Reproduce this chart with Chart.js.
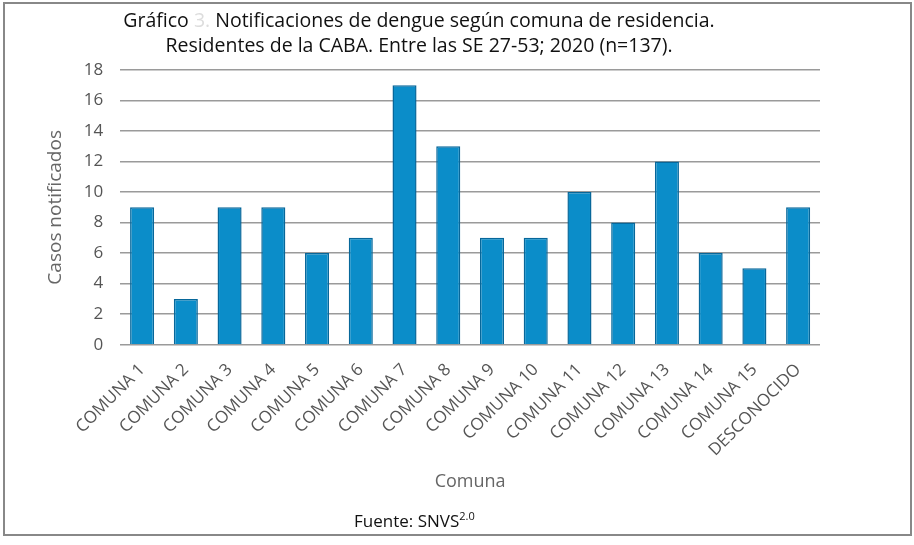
<!DOCTYPE html>
<html>
<head>
<meta charset="utf-8">
<script src="https://cdn.jsdelivr.net/npm/chart.js@4"></script>
<style>
  html, body { margin: 0; padding: 0; background: #fff; }
  body { width: 914px; height: 545px; position: relative; overflow: hidden; font-family: "Open Sans", sans-serif; }
  #frame { position: absolute; left: 3px; top: 2px; width: 905px; height: 530px; border: 2px solid #888; }
  #wrap { position: absolute; left: 0; top: 0; width: 914px; height: 545px; }
  #title { position: absolute; left: 0; top: 7px; width: 838px; text-align: center; font-size: 19.5px; line-height: 25px; color: #111; }
  #title .num { color: #ddd; }
  #source { position: absolute; left: 354px; top: 508px; font-size: 17px; color: #111; }
  #source sup { font-size: 11px; }
</style>
</head>
<body>
<div id="frame"></div>
<div id="wrap"><canvas id="chart"></canvas></div>
<div id="title">Gráfico <span class="num">3.</span> Notificaciones de dengue según comuna de residencia.<br>Residentes de la CABA. Entre las SE 27-53; 2020 (n=137).</div>
<div id="source">Fuente: SNVS<sup>2.0</sup></div>
<script>
const comunas = ['COMUNA 1', 'COMUNA 2', 'COMUNA 3', 'COMUNA 4', 'COMUNA 5', 'COMUNA 6', 'COMUNA 7', 'COMUNA 8',
    'COMUNA 9', 'COMUNA 10', 'COMUNA 11', 'COMUNA 12', 'COMUNA 13', 'COMUNA 14', 'COMUNA 15', 'DESCONOCIDO'];
const casos = [9, 3, 9, 9, 6, 7, 17, 13, 7, 7, 10, 8, 12, 6, 5, 9];
const yMax = 18;
const yStep = 2;

const ctx = document.getElementById('chart').getContext('2d');

const chart = new Chart(ctx, {
    type: 'bar',
    data: {
        labels: comunas,
        datasets: [{
            label: 'Casos notificados',
            data: casos,
            backgroundColor: '#0b8dc9',
            borderColor: '#07679a',
            borderWidth: 1.5,
            barPercentage: 0.55,
            categoryPercentage: 1,
        }]
    },
    options: {
        responsive: true,
        maintainAspectRatio: false,
        animation: false,
        layout: { padding: { left: 40, right: 94, top: 70, bottom: 48 } },
        plugins: {
            legend: { display: false },
            tooltip: { enabled: false },
        },
        scales: {
            x: {
                grid: { display: false },
                border: { display: false },
                ticks: {
                    color: '#555',
                    font: { family: 'Open Sans', size: 17 },
                    maxRotation: 45,
                    minRotation: 45,
                    padding: 7,
                },
                title: {
                    display: true,
                    text: 'Comuna',
                    color: '#666',
                    font: { family: 'Open Sans', size: 18 },
                    padding: { top: 4 },
                },
            },
            y: {
                min: 0,
                max: yMax,
                grid: { color: '#9a9a9a', lineWidth: 1.5, drawTicks: false },
                border: { display: false },
                ticks: {
                    stepSize: yStep,
                    color: '#555',
                    font: { family: 'Open Sans', size: 17 },
                    padding: 17,
                },
                title: {
                    display: true,
                    text: 'Casos notificados',
                    color: '#666',
                    font: { family: 'Open Sans', size: 19 },
                    padding: { top: 4, bottom: 0 },
                },
            },
        },
    }
});
</script>
</body>
</html>
